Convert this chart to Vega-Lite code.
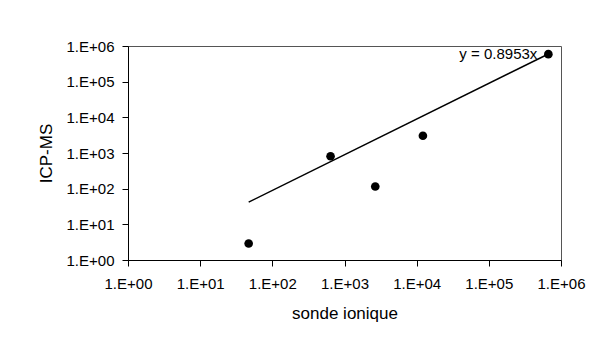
{
  "$schema": "https://vega.github.io/schema/vega-lite/v6.json",
  "autosize": {"type": "none"},
  "width": 433,
  "height": 214,
  "padding": {"left": 128, "top": 46, "right": 44, "bottom": 86},
  "background": "white",
  "config": {
    "font": "Liberation Sans",
    "view": {"stroke": "#555555", "strokeWidth": 1},
    "axis": {
      "grid": false,
      "domainColor": "black",
      "tickColor": "black",
      "tickSize": 6,
      "labelColor": "black",
      "titleColor": "black",
      "labelFont": "Liberation Sans",
      "titleFont": "Liberation Sans",
      "labelFontSize": 15,
      "titleFontSize": 17,
      "titleFontWeight": "normal",
      "labelPadding": 8,
      "labelFlush": false,
      "labelOverlap": false
    }
  },
  "datasets": {
    "points": [
      {"sonde": 47, "icp": 2.9},
      {"sonde": 641, "icp": 813},
      {"sonde": 2670, "icp": 115},
      {"sonde": 12200, "icp": 3040},
      {"sonde": 668000, "icp": 590000}
    ],
    "trend": [
      {"sonde": 47, "icp": 42},
      {"sonde": 668000, "icp": 598000}
    ],
    "label": [
      {"sonde": 668000, "icp": 590000, "text": "y = 0.8953x"}
    ]
  },
  "layer": [
    {
      "data": {"name": "trend"},
      "mark": {"type": "line", "color": "black", "strokeWidth": 1.5},
      "encoding": {
        "x": {
          "field": "sonde", "type": "quantitative",
          "scale": {"type": "log", "domain": [1, 1000000], "nice": false},
          "axis": {
            "title": "sonde ionique",
            "values": [1, 10, 100, 1000, 10000, 100000, 1000000],
            "labelExpr": "'1.E+0' + round(log(datum.value)/LN10)",
            "labelPadding": 10,
            "titlePadding": 14
          }
        },
        "y": {
          "field": "icp", "type": "quantitative",
          "scale": {"type": "log", "domain": [1, 1000000], "nice": false},
          "axis": {
            "title": "ICP-MS",
            "values": [1, 10, 100, 1000, 10000, 100000, 1000000],
            "labelExpr": "'1.E+0' + round(log(datum.value)/LN10)",
            "titlePadding": 11
          }
        }
      }
    },
    {
      "data": {"name": "points"},
      "mark": {"type": "point", "shape": "circle", "filled": true, "color": "black", "opacity": 1, "size": 75},
      "encoding": {
        "x": {"field": "sonde", "type": "quantitative"},
        "y": {"field": "icp", "type": "quantitative"}
      }
    },
    {
      "data": {"name": "label"},
      "mark": {"type": "text", "align": "right", "baseline": "middle", "dx": -11, "fontSize": 15, "color": "black"},
      "encoding": {
        "x": {"field": "sonde", "type": "quantitative"},
        "y": {"field": "icp", "type": "quantitative"},
        "text": {"field": "text"}
      }
    }
  ]
}
